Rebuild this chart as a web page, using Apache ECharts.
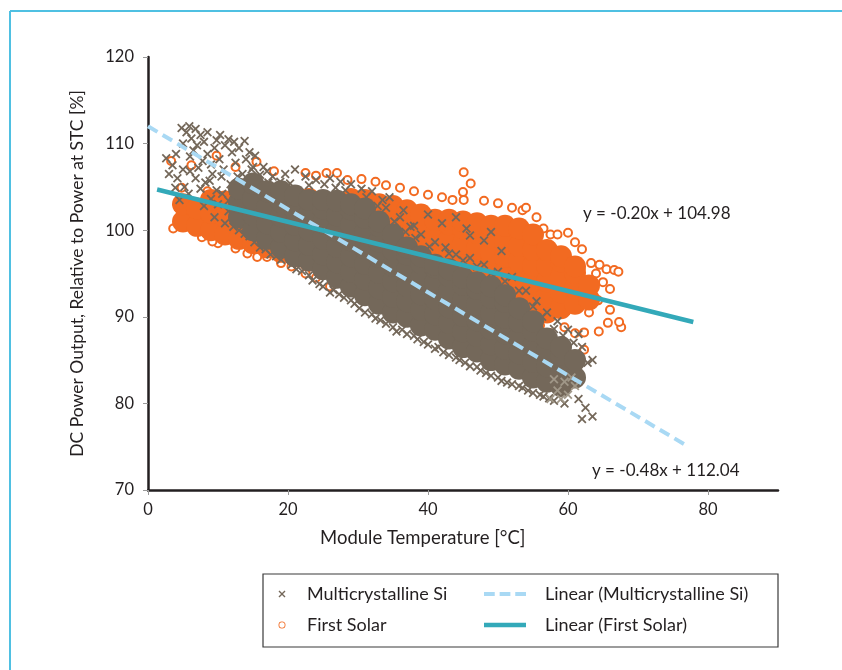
<!DOCTYPE html>
<html>
<head>
<meta charset="utf-8">
<script src="https://cdn.jsdelivr.net/npm/echarts@6/dist/echarts.min.js"></script>
<style>
  html, body { margin: 0; padding: 0; background: #fff; }
  #main { width: 842px; height: 670px; }
</style>
</head>
<body>
<div id="main"></div>
<script>
// axis ticks
var xTicks = [0, 20, 40, 60, 80];
var yTicks = [70, 80, 90, 100, 110, 120];

// First Solar - dense part of the cloud
var firstSolarCore = [
  [5,101],[5,103],[7,100.5],[7,102.5],[9,100],[9,102],[9,103.5],
  [11,99.5],[11,101.5],[11,103.3],[13,99],[13,101],[13,103],
  [15,98.5],[15,100.3],[15,102.1],[15,103.5],[17,98],[17,99.8],[17,101.6],[17,103.3],
  [19,97.5],[19,99.3],[19,101.1],[19,102.9],[21,97],[21,98.8],[21,100.6],[21,102.4],[21,103.8],
  [23,96.5],[23,98.3],[23,100.1],[23,101.9],[23,103.6],[25,96],[25,97.8],[25,99.6],[25,101.4],[25,103.2],
  [27,96],[27,97.8],[27,99.6],[27,101.4],[27,103.3],[29,95.5],[29,97.3],[29,99.1],[29,100.9],[29,102.7],[29,103.6],
  [31,95],[31,96.8],[31,98.6],[31,100.4],[31,102.2],[31,103.5],[33,95],[33,96.8],[33,98.6],[33,100.4],[33,102.2],[33,103],
  [35,95],[35,96.8],[35,98.6],[35,100.4],[35,102.2],[35,102.8],[37,94.5],[37,96.3],[37,98.1],[37,99.9],[37,101.7],[37,102.3],
  [39,94],[39,95.8],[39,97.6],[39,99.4],[39,101.2],[39,101.8],[41,94],[41,95.8],[41,97.6],[41,99.4],[41,101.2],
  [43,93.5],[43,95.3],[43,97.1],[43,98.9],[43,100.7],[43,101.2],[45,93],[45,94.8],[45,96.6],[45,98.4],[45,100.2],[45,101],
  [47,92.5],[47,94.3],[47,96.1],[47,97.9],[47,99.7],[47,100.8],[49,92],[49,93.8],[49,95.6],[49,97.4],[49,99.2],[49,100.5],
  [51,91.5],[51,93.3],[51,95.1],[51,96.9],[51,98.7],[51,100.5],[53,91],[53,92.8],[53,94.6],[53,96.4],[53,98.2],[53,100.2],
  [55,90.5],[55,92.3],[55,94.1],[55,95.9],[55,97.7],[55,99.5],[57,90.5],[57,92.3],[57,94.1],[57,95.9],[57,97.7],
  [59,91],[59,92.8],[59,94.6],[59,96.4],[59,97],[61,91.5],[61,93.3],[61,95.1],[61,95.8],[63,92],[63,93.6]
];
// First Solar - scattered points round the edge
var firstSolarEdge = [
  [3.6,100.2],[5.3,100.6],[6,101.8],[7.4,99.8],[7.7,99.2],[10,98.5],[12.5,97.9],[14.2,97.3],[15.6,96.9],[17,96.9],
  [20.5,95.8],[22.5,95],[9.2,98.7],[11.2,100.4],[4.8,104.9],[3.3,108],[6.2,107.5],[9.8,108.6],[12.5,107.3],[15.5,107.9],
  [18,106.8],[22.5,106.6],[25.5,106.6],[27,106.6],[24,106.3],[28.5,105.8],[30.5,105.9],[32.5,105.6],[34,105.2],[36,104.9],
  [38,104.5],[40,104.1],[42,103.8],[43.5,103.5],[45.1,106.7],[46.1,105.4],[45,104.4],[45.1,103.5],[48,103.4],[50,103.1],
  [52,102.6],[53.5,102.3],[54,102.6],[55.5,101.5],[56.5,100.2],[57.5,99.5],[58.5,99.5],[60,99.7],[61,98.6],[62,97.8],
  [63.3,96.2],[64.5,96],[65.5,95.5],[66.6,95.4],[67.2,95.2],[64,95],[65,94],[66,93.2],[64.3,91.9],[65.7,89.3],
  [67.6,88.8],[67.3,89.4],[63,90.5],[62.3,88.2],[61,88.1],[59.5,88.8],[57.5,88.1],[56,89],[62.3,86.2],[57,86.8],
  [24,94.5],[26,93.5],[28.5,93],[31,92.3],[33,91.8],[35,91.2],[19,96.2],[66,90.8],[64.4,88.3],[8.5,104.5]
];
// Multicrystalline Si - scattered points round the edge
var multiSiEdge = [
  [2.6,108.3],[4.8,111.8],[5.5,111.3],[6.2,110.6],[4,108.8],[3.5,107.5],[5,107],[6,108.5],[7,109.8],[7.5,111],
  [8,110.2],[8.5,108.8],[9,107.6],[6.8,106],[5.2,105],[3.9,104.9],[4.5,103.5],[7.5,104.8],[8.8,105.7],[9.8,104.6],
  [10.5,106.2],[11,109.8],[11.5,110.5],[12,109],[12.5,107.8],[13,109.5],[13.5,106.5],[10,103],[11.5,102.2],[12.2,104.5],
  [8,102.8],[9.5,101.5],[14,108.2],[14.8,107],[15.5,105.5],[16.5,107.3],[17.8,106.2],[18.5,104.8],[19.6,106.5],[21,107],
  [22.5,106.2],[24,105.8],[26,106],[27.5,105.6],[29,105.3],[30.5,104.8],[32,104.5],[33.5,103.5],[34,102.6],[36,101.5],
  [37.5,100.4],[39,99.5],[41,98.6],[42.5,98],[44,97.2],[46,96.8],[48,96],[50,95.2],[52,94.6],[54,93],
  [55.5,91.8],[57,90.5],[58.5,89.5],[60,88.5],[61.5,88],[62.8,84.7],[62,86.5],[63.5,85],[61,84],[60.5,82.5],
  [61.5,80.5],[62.5,79.5],[63.5,78.5],[62,78.2],[59.5,80],[58,80.3],[56.5,80.8],[55,81.2],[53.5,81.8],[52,82.2],
  [50.5,82.6],[49,83.2],[47.5,83.8],[46,84.3],[44.5,85],[43,85.6],[41.5,86.5],[40,86.8],[38.5,87.4],[37,88],
  [35.5,88.3],[34,89.2],[32.5,89.8],[31,90.5],[29.5,91.5],[28,92.2],[26.5,93.1],[25,93.5],[23.5,94.2],[22,95.3],
  [20.5,96],[19,96.6],[17.5,97.2],[16,98],[14.5,99.3],[13,100],[11,100.8],
  [38,100.5],[40,101.8],[42,100.8],[44,101.5],[46,99.4],[45.5,100.2],[48,98.8],[50.5,97.6],[49,99.8],[36.5,102.3],[34.5,103.8],
  [5,110],[6.5,109.2],[7.8,108],[9.5,109.5],[10.2,108.2],[10.8,107],[9.2,106.5],[7.2,107.2],[6,106.8],[8.2,105.5],
  [11.8,105.3],[12.8,106.2],[10.6,104.2],[9,103.6],[11.5,103.4],[4.2,106],[5.8,104.2],[3,106.5],[8.5,111.3],[9.8,110.4],
  [10.3,111],[12.3,110.2],[6.8,111.7],[5.9,112],[13.8,110.3],[14.5,109],[15.3,108.6],[16,106.4],[17.2,105.5],
  [21.2,95.5],[23,94.8],[24.5,93.8],[26,92.8],[27.3,92.6],[29,91.9],[30.2,91],[32,90.3],[33.2,89.6],[35,88.8],
  [36.3,88.5],[38,87.8],[39.4,87.1],[41,86.3],[42.2,85.9],[44,85.3],[45.3,84.7],[47,84.2],[48.3,83.5],[50,83],
  [51.3,82.4],[53,82],[54.3,81.5],[56,81],[57.3,80.6],[16.8,97.8],[18.3,97],[15.2,98.6],[13.8,99.6],[12.2,100.4],
  [15,107.3],[17,106.8],[18.9,105.6],[20.3,105.4],[23,105.2],[25.2,105.3],[26.8,104.9],[28.2,104.6],[31.2,103.8],[32.8,102.8],
  [35.2,101],[36.8,99.8],[38.2,99.1],[40.2,98.1],[43,97.3],[45,96.5],[47,95.8],[49,95],[51,94.1],[53,93],
  [55,91.2],[56.3,90],[58,88.6],[59.3,87.8],[60.8,87]
];
// Multicrystalline Si - paler patch at the lower right
var multiSiPale = [
  [58.5,81.5],[59.5,82.5],[60,81],[59,80.5],[60.5,83],[58,82.8],[61,82],[57.5,80.5]
];
// Multicrystalline Si - dense part of the cloud
var multiSiCore = [
  [13,101.5],[13,103.2],[13,104.8],[15,100],[15,101.8],[15,103.6],[15,105.4],
  [17,99],[17,100.8],[17,102.6],[17,104.5],[19,98],[19,99.8],[19,101.6],[19,103.3],[19,104.5],
  [21,97],[21,98.8],[21,100.6],[21,102.4],[21,104],[23,96.5],[23,98.3],[23,100],[23,101.8],[23,103.5],
  [25,95.5],[25,97.2],[25,99],[25,100.8],[25,102.5],[25,103.5],[27,94.5],[27,96.3],[27,98.1],[27,99.9],[27,101.7],[27,103.4],
  [29,93.5],[29,95.2],[29,97],[29,98.8],[29,100.6],[29,102.4],[29,103],[31,92.5],[31,94.3],[31,96.1],[31,97.9],[31,99.7],[31,101.4],[31,102.5],
  [33,91.5],[33,93.3],[33,95.1],[33,96.9],[33,98.7],[33,100.5],[33,101],[35,90.5],[35,92.3],[35,94.1],[35,95.9],[35,97.7],[35,99.5],
  [37,90],[37,91.8],[37,93.6],[37,95.4],[37,97.2],[37,98],[39,89],[39,90.8],[39,92.6],[39,94.4],[39,96.2],[39,97],
  [41,88.5],[41,90.3],[41,92.1],[41,93.9],[41,95.7],[41,96],[43,87.5],[43,89.3],[43,91.1],[43,92.9],[43,94.7],[43,95.5],
  [45,86.5],[45,88.3],[45,90.1],[45,91.9],[45,93.7],[45,94.5],[47,86],[47,87.8],[47,89.6],[47,91.4],[47,93.2],[47,94],
  [49,85],[49,86.8],[49,88.6],[49,90.4],[49,92.2],[49,93.5],[51,84.5],[51,86.3],[51,88.1],[51,89.9],[51,91.7],[51,92.5],
  [53,84],[53,85.8],[53,87.6],[53,89.4],[53,91],[55,83],[55,84.8],[55,86.6],[55,88.4],[55,89.5],
  [57,82.5],[57,84.3],[57,86.1],[57,87.5],[59,82],[59,83.8],[59,85.6],[59,86.5],[61,83],[61,85]
];
// trend lines, end points
var trendMultiSi = [[0, 112.0], [77, 75.1]];
var trendFirstSolar = [[1.3, 104.7], [77.9, 89.4]];

var FONT = 'Lato';
var INK = '#231f20';
var GRAY = '#74685a';
var ORANGE = '#f26a21';
var TEAL = '#33a9b9';
var PALE_BLUE = '#a9d9f4';
var CROSS = 'path://M0,1.4L1.4,0L5,3.6L8.6,0L10,1.4L6.4,5L10,8.6L8.6,10L5,6.4L1.4,10L0,8.6L3.6,5Z';
var RING = 'path://M5,0A5,5,0,1,1,4.99,0ZM5,1.2A3.8,3.8,0,1,0,5.01,1.2Z';
var DASH_ICON = 'path://M0,0h11v4h-11zM16,0h11v4h-11zM32,0h11v4h-11z';
var LINE_ICON = 'path://M0,0h43v4.5h-43z';

var myChart = echarts.init(document.getElementById('main'));
myChart.setOption({
  animation: false,
  textStyle: { fontFamily: FONT },
  grid: { left: 148, right: 64, top: 57, bottom: 180 },
  xAxis: {
    type: 'value',
    min: 0,
    max: 90,
    splitLine: { show: false },
    axisLine: { lineStyle: { color: INK, width: 2.5 } },
    axisTick: { customValues: xTicks, length: 5, lineStyle: { color: '#999' } },
    axisLabel: { customValues: xTicks, fontSize: 16.5, color: INK, margin: 11, fontFamily: FONT }
  },
  yAxis: {
    type: 'value',
    min: 70,
    max: 120,
    interval: 10,
    name: 'DC Power Output, Relative to Power at STC [%]',
    nameLocation: 'middle',
    nameGap: 62,
    nameTextStyle: { fontSize: 17.5, color: INK, fontFamily: FONT },
    splitLine: { show: false },
    axisLine: { show: true, lineStyle: { color: INK, width: 2.5 } },
    axisTick: { show: true, length: 5, lineStyle: { color: '#999' } },
    axisLabel: { customValues: yTicks, fontSize: 16.5, color: INK, margin: 14, fontFamily: FONT }
  },
  legend: [
    {
      orient: 'vertical', left: 278.5, top: 584, padding: 0,
      itemWidth: 7, itemHeight: 7, itemGap: 11,
      textStyle: { fontSize: 18, color: INK, lineHeight: 20, padding: [0, 0, 0, 16.5], fontFamily: FONT },
      data: [
        { name: 'Multicrystalline Si', icon: CROSS, itemStyle: { color: GRAY, borderWidth: 0 } },
        { name: 'First Solar', icon: RING, itemStyle: { color: ORANGE, borderWidth: 0 } }
      ]
    },
    {
      orient: 'vertical', left: 484, top: 584, padding: 0,
      itemWidth: 42, itemHeight: 14, itemGap: 11,
      textStyle: { fontSize: 18, color: INK, lineHeight: 20, padding: [0, 0, 0, 14], fontFamily: FONT },
      data: [
        { name: 'Linear (Multicrystalline Si)', icon: DASH_ICON, itemStyle: { color: PALE_BLUE } },
        { name: 'Linear (First Solar)', icon: LINE_ICON, itemStyle: { color: TEAL } }
      ]
    }
  ],
  graphic: [
    { type: 'line', shape: { x1: 10, y1: 11, x2: 842, y2: 11 }, style: { stroke: '#4fc0e2', lineWidth: 2 } },
    { type: 'line', shape: { x1: 10, y1: 11, x2: 10, y2: 670 }, style: { stroke: '#4fc0e2', lineWidth: 2 } },
    { type: 'rect', shape: { x: 263, y: 574, width: 515, height: 73 }, style: { fill: 'none', stroke: '#3a3a3a', lineWidth: 1.2 } },
    { type: 'text', left: 320, top: 529, style: { text: 'Module Temperature [°C]', fontSize: 18.5, fill: INK, fontFamily: FONT } },
    { type: 'text', left: 583, top: 205, style: { text: 'y = -0.20x + 104.98', fontSize: 17, fill: INK, fontFamily: FONT } },
    { type: 'text', left: 592, top: 462, style: { text: 'y = -0.48x + 112.04', fontSize: 17, fill: INK, fontFamily: FONT } }
  ],
  series: [
    {
      name: 'First Solar', type: 'scatter', symbol: 'emptyCircle', symbolSize: 8,
      itemStyle: { color: ORANGE, borderColor: ORANGE, borderWidth: 1.3, opacity: 1 },
      data: firstSolarEdge, silent: true
    },
    {
      name: 'First Solar', type: 'scatter', symbol: 'circle', symbolSize: 22,
      itemStyle: { color: ORANGE, opacity: 1 }, data: firstSolarCore, silent: true
    },
    {
      name: 'Multicrystalline Si', type: 'scatter', symbol: CROSS, symbolSize: 9,
      itemStyle: { color: GRAY, opacity: 1 }, data: multiSiEdge, silent: true
    },
    {
      name: 'Multicrystalline Si', type: 'scatter', symbol: 'circle', symbolSize: 22,
      itemStyle: { color: GRAY, opacity: 1 }, data: multiSiCore, silent: true
    },
    {
      name: 'Multicrystalline Si', type: 'scatter', symbol: CROSS, symbolSize: 9,
      itemStyle: { color: '#a09788', opacity: 1 }, data: multiSiPale, silent: true
    },
    {
      name: 'Linear (Multicrystalline Si)', type: 'line', symbol: 'none', z: 5,
      lineStyle: { color: PALE_BLUE, width: 4, type: [11, 6] },
      itemStyle: { color: PALE_BLUE },
      data: trendMultiSi
    },
    {
      name: 'Linear (First Solar)', type: 'line', symbol: 'none', z: 5,
      lineStyle: { color: TEAL, width: 4.5 },
      itemStyle: { color: TEAL },
      data: trendFirstSolar
    }
  ]
});
</script>
</body>
</html>
